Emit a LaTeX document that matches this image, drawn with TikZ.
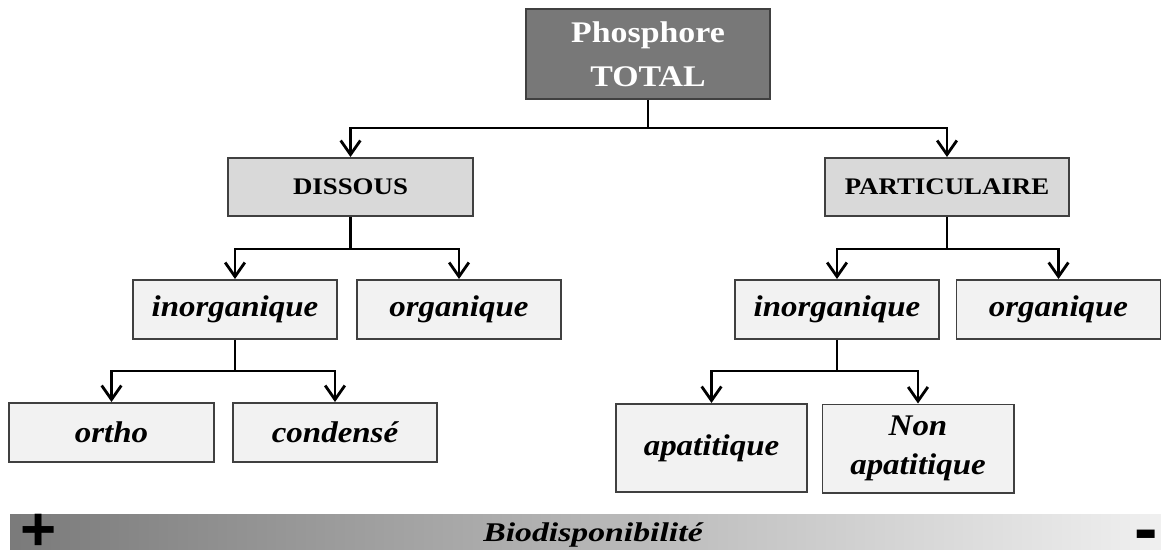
\documentclass[tikz,border=0pt]{standalone}
\usepackage{fontspec}
\setmainfont{Liberation Serif}
\newfontfamily\boxfont[FakeStretch=1.1]{Liberation Serif}
\newfontfamily\capfont[FakeStretch=1.13]{Liberation Serif}
\newfontfamily\barfont[FakeStretch=1.25]{Liberation Serif}
\newfontfamily\signfont{Liberation Sans}
\usetikzlibrary{arrows.meta}

\begin{document}
\begin{tikzpicture}[x=0.025cm,y=-0.025cm,
  box/.style={draw=black!75,line width=1.4pt,inner sep=0pt},
  top/.style={box,fill=black!53,text=white,align=center,minimum width=6.1cm,minimum height=2.25cm,
    font=\capfont\bfseries\fontsize{21.3}{31}\selectfont},
  kind/.style={box,fill=black!15,minimum width=6.1cm,minimum height=1.45cm,
    font=\capfont\bfseries\fontsize{16.9}{20}\selectfont},
  form/.style={box,fill=black!5,align=center,minimum width=5.1cm,minimum height=1.475cm,
    font=\boxfont\bfseries\itshape\fontsize{21.3}{27.7}\selectfont},
  tall/.style={minimum width=4.775cm,minimum height=2.2cm},
  sign/.style={inner sep=0pt,font=\signfont\bfseries\fontsize{44}{44}\selectfont},
  link/.style={line width=2pt},
  arr/.style={link,-{Straight Barb[length=10pt,width=14pt]}}]
\useasboundingbox (0,0) rectangle (1161,550);
% tree
\node[top] (total) at (648,54) {Phosphore\\TOTAL};
\node[kind] (dis) at (350.5,187) {DISSOUS};
\node[kind] (par) at (947,187) {PARTICULAIRE};
\node[form] (inoL) at (235,309.5) {inorganique};
\node[form] (orgL) at (459,309.5) {organique};
\node[form] (inoR) at (837,309.5) {inorganique};
\node[form] (orgR) at (1058.5,309.5) {organique};
\node[form] (ortho) at (111.5,432.5) {ortho};
\node[form] (cond) at (335,432.5) {condensé};
\node[form,tall] (apa) at (711.5,448) {apatitique};
\node[form,tall] (napa) at (918,448.5) {Non\\apatitique};
% connectors
\draw[link] (total.south) -- ++(0,28) coordinate (j0);
\draw[arr] (j0) -| (dis.north);
\draw[arr] (j0) -| (par.north);
\draw[link] (dis.south) -- ++(0,32) coordinate (j1);
\draw[arr] (j1) -| (inoL.north);
\draw[arr] (j1) -| (orgL.north);
\draw[link] (par.south) -- ++(0,32) coordinate (j2);
\draw[arr] (j2) -| (inoR.north);
\draw[arr] (j2) -| (orgR.north);
\draw[link] (inoL.south) -- ++(0,31) coordinate (j3);
\draw[arr] (j3) -| (ortho.north);
\draw[arr] (j3) -| (cond.north);
\draw[link] (inoR.south) -- ++(0,31) coordinate (j4);
\draw[arr] (j4) -| (apa.north);
\draw[arr] (j4) -| (napa.north);
% scale bar
\shade[left color=black!52,right color=black!6] (10,514) rectangle (1161,550);
\node[anchor=base,font=\barfont\bfseries\itshape\fontsize{19.2}{22}\selectfont] (bio) at (593,541) {Biodisponibilité};
\node[sign] (plus) at (39,532) {+};
\node[sign,font=\signfont\bfseries\fontsize{50}{50}\selectfont] (minus) at (1146,541) {-};
\end{tikzpicture}
\end{document}
